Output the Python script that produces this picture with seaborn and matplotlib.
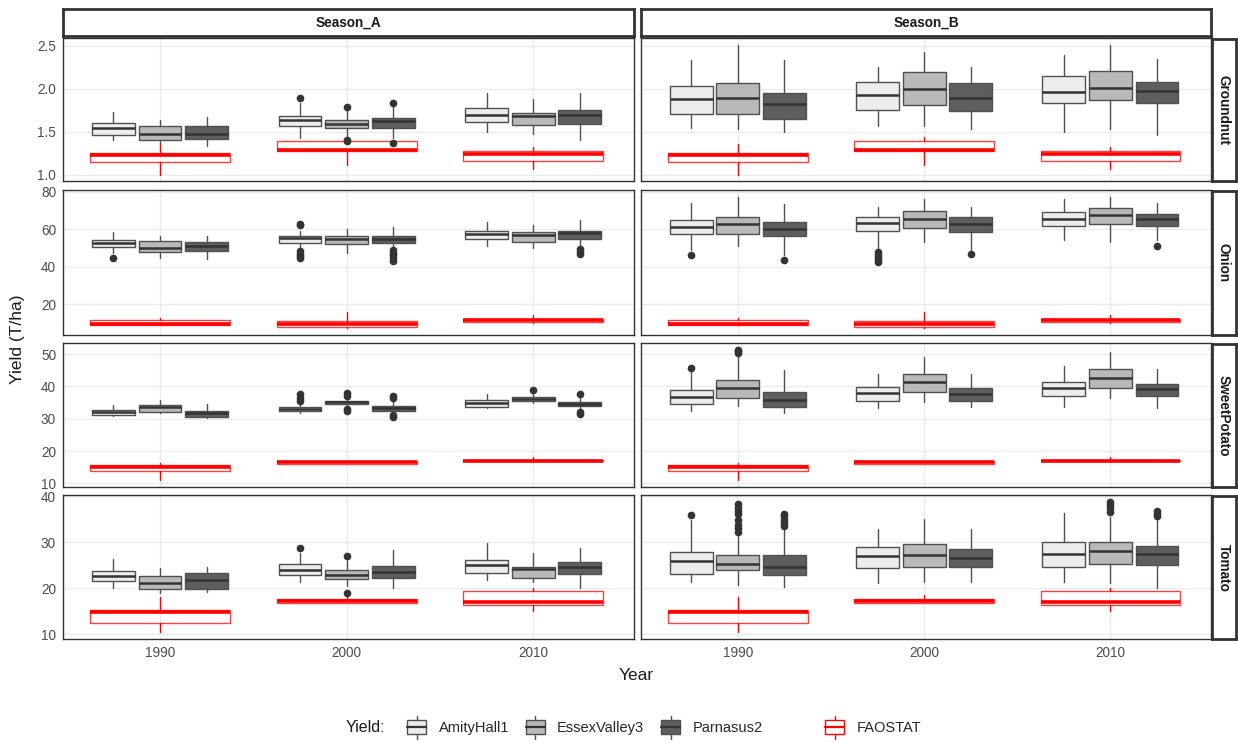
import matplotlib
matplotlib.use("Agg")
import matplotlib.pyplot as plt
import seaborn as sns
import pandas as pd
from matplotlib.legend_handler import HandlerBase
from matplotlib.patches import Rectangle, Patch
from matplotlib.lines import Line2D

# ---------------- data ----------------
years = [1990, 2000, 2010]
crops = ["Groundnut", "Onion", "SweetPotato", "Tomato"]
seasons = ["Season_A", "Season_B"]
cultivars = ["AmityHall1", "EssexValley3", "Parnasus2"]

# five-number summaries per year (1990, 2000, 2010): (low whisker, Q1, median, Q3, high whisker)
groundnut_A = {
    "AmityHall1":   [(1.40, 1.465, 1.547, 1.597, 1.733), (1.426, 1.566, 1.636, 1.686, 1.83), (1.50, 1.608, 1.694, 1.771, 1.95)],
    "EssexValley3": [(1.37, 1.407, 1.473, 1.566, 1.632), (1.446, 1.547, 1.593, 1.64, 1.756), (1.473, 1.577, 1.678, 1.713, 1.88)],
    "Parnasus2":    [(1.33, 1.419, 1.473, 1.57, 1.67), (1.426, 1.547, 1.624, 1.655, 1.795), (1.40, 1.593, 1.694, 1.748, 1.95)],
}
groundnut_B = {
    "AmityHall1":   [(1.543, 1.71, 1.88, 2.031, 2.33), (1.562, 1.752, 1.922, 2.078, 2.256), (1.50, 1.83, 1.965, 2.151, 2.388)],
    "EssexValley3": [(1.531, 1.71, 1.895, 2.066, 2.515), (1.562, 1.81, 1.996, 2.194, 2.43), (1.531, 1.872, 2.012, 2.205, 2.508)],
    "Parnasus2":    [(1.50, 1.651, 1.826, 1.946, 2.33), (1.531, 1.74, 1.895, 2.062, 2.256), (1.457, 1.83, 1.969, 2.078, 2.345)],
}
onion_A = {
    "AmityHall1":   [(47.2, 50.6, 52.6, 54.2, 58.3), (49.9, 52.6, 55.2, 56.3, 58.8), (51.1, 54.7, 57.4, 59.0, 63.7)],
    "EssexValley3": [(44.5, 47.9, 50.2, 53.5, 56.1), (47.2, 52.2, 54.7, 56.3, 60.3), (49.9, 53.3, 56.7, 58.5, 62.4)],
    "Parnasus2":    [(44.0, 48.1, 50.9, 53.3, 56.1), (49.9, 52.6, 54.7, 56.3, 61.2), (51.1, 54.5, 57.8, 59.0, 64.6)],
}
onion_B = {
    "AmityHall1":   [(49.0, 57.6, 61.3, 64.9, 73.9), (49.0, 58.8, 63.3, 66.4, 71.9), (54.0, 61.5, 65.3, 69.1, 75.9)],
    "EssexValley3": [(50.8, 57.4, 62.6, 66.4, 77.3), (53.1, 60.8, 65.5, 69.8, 75.9), (53.1, 62.8, 67.3, 71.0, 77.3)],
    "Parnasus2":    [(46.3, 56.1, 59.9, 63.7, 73.2), (49.0, 58.7, 62.6, 66.2, 71.9), (54.0, 61.5, 65.3, 67.8, 73.9)],
}
sweetpotato_A = {
    "AmityHall1":   [(30.7, 31.1, 32.0, 32.6, 34.1), (31.7, 32.3, 33.1, 33.6, 35.0), (33.2, 33.6, 34.8, 35.7, 37.5)],
    "EssexValley3": [(31.7, 32.1, 33.5, 34.1, 35.7), (33.4, 34.4, 35.1, 35.6, 36.5), (34.8, 35.6, 36.2, 36.8, 38.1)],
    "Parnasus2":    [(30.1, 30.5, 31.8, 32.5, 34.6), (31.7, 32.4, 33.3, 34.0, 35.8), (33.2, 33.8, 34.6, 35.3, 36.5)],
}
sweetpotato_B = {
    "AmityHall1":   [(32.4, 34.5, 36.7, 38.8, 44.8), (33.2, 35.6, 37.9, 39.9, 43.9), (33.5, 37.1, 39.4, 41.5, 46.2)],
    "EssexValley3": [(33.9, 36.4, 39.4, 41.9, 49.5), (35.1, 38.3, 41.3, 43.8, 49.0), (36.3, 39.5, 42.7, 45.3, 50.6)],
    "Parnasus2":    [(31.7, 33.6, 35.8, 38.3, 45.1), (33.6, 35.5, 37.5, 39.4, 43.9), (33.2, 37.0, 39.3, 40.7, 45.4)],
}
tomato_A = {
    "AmityHall1":   [(20.1, 21.5, 22.6, 23.7, 26.3), (21.4, 22.8, 24.0, 25.2, 27.7), (21.7, 23.4, 25.0, 26.2, 29.9)],
    "EssexValley3": [(19.0, 19.8, 21.1, 22.6, 24.4), (20.4, 22.0, 22.8, 24.0, 26.3), (21.3, 22.3, 24.1, 24.7, 27.7)],
    "Parnasus2":    [(19.1, 19.8, 21.7, 23.2, 24.7), (20.1, 22.3, 23.6, 24.8, 28.2), (20.1, 23.1, 24.7, 25.6, 28.7)],
}
tomato_B = {
    "AmityHall1":   [(21.4, 23.1, 25.8, 27.9, 34.7), (21.1, 24.3, 26.9, 29.0, 32.8), (21.4, 24.7, 27.4, 30.1, 36.4)],
    "EssexValley3": [(20.6, 23.9, 25.3, 27.2, 31.4), (21.4, 24.7, 27.2, 29.5, 35.1), (21.2, 25.3, 28.0, 30.1, 35.4)],
    "Parnasus2":    [(20.3, 22.8, 24.7, 27.3, 32.8), (21.4, 24.5, 26.6, 28.6, 32.8), (20.1, 25.0, 27.4, 29.2, 35.0)],
}

# outliers per year (1990, 2000, 2010)
groundnut_A_out = {"AmityHall1": [[], [1.888], []], "EssexValley3": [[], [1.783, 1.405, 1.385], []],
                   "Parnasus2": [[], [1.83, 1.365], []]}
groundnut_B_out = {"AmityHall1": [[], [], []], "EssexValley3": [[], [], []], "Parnasus2": [[], [], []]}
onion_A_out = {"AmityHall1": [[44.5], [62.1, 62.8, 48.5, 47.0, 45.5, 44.5], []],
               "EssexValley3": [[], [], []],
               "Parnasus2": [[], [49.0, 47.5, 46.0, 44.5, 43.0], [49.5, 48.0, 47.0]]}
onion_B_out = {"AmityHall1": [[46.3], [48.0, 46.5, 45.0, 43.5, 42.5], []],
               "EssexValley3": [[], [], []],
               "Parnasus2": [[43.8], [46.8], [51.1]]}
sweetpotato_A_out = {"AmityHall1": [[], [35.5, 36.5, 37.5], []],
                     "EssexValley3": [[], [37.0, 38.0, 32.9, 32.3], [38.8]],
                     "Parnasus2": [[], [36.3, 37.0, 31.0, 30.5], [37.6, 32.2, 31.5]]}
sweetpotato_B_out = {"AmityHall1": [[45.6], [], []], "EssexValley3": [[50.2, 50.8, 51.4], [], []],
                     "Parnasus2": [[], [], []]}
tomato_A_out = {"AmityHall1": [[], [28.7], []], "EssexValley3": [[], [27.0, 19.05], []],
                "Parnasus2": [[], [], []]}
tomato_B_out = {"AmityHall1": [[35.8], [], []],
                "EssexValley3": [[32.3, 33.0, 33.8, 34.7, 36.1, 36.8, 37.5, 38.3], [], [36.5, 37.3, 38.0, 38.8]],
                "Parnasus2": [[33.5, 34.2, 34.9, 35.6, 36.1], [], [35.6, 36.2, 36.8]]}

# FAOSTAT summaries (same in both seasons)
fao_groundnut = [(1.0, 1.143, 1.233, 1.248, 1.36), (1.108, 1.271, 1.28, 1.391, 1.44), (1.066, 1.159, 1.24, 1.275, 1.322)]
fao_onion = [(9.0, 9.0, 9.6, 11.9, 12.5), (7.2, 8.1, 9.6, 11.1, 16.1), (10.0, 10.8, 11.7, 12.3, 14.5)]
fao_sweetpotato = [(10.9, 13.7, 15.1, 15.8, 16.3), (16.0, 16.1, 16.5, 16.8, 17.0), (16.6, 16.9, 17.0, 17.1, 18.2)]
fao_tomato = [(10.4, 12.4, 14.8, 15.3, 18.2), (16.8, 16.8, 17.2, 17.7, 18.5), (15.1, 16.3, 16.9, 19.3, 20.0)]

tables = {("Groundnut", "Season_A"): (groundnut_A, groundnut_A_out),
          ("Groundnut", "Season_B"): (groundnut_B, groundnut_B_out),
          ("Onion", "Season_A"): (onion_A, onion_A_out),
          ("Onion", "Season_B"): (onion_B, onion_B_out),
          ("SweetPotato", "Season_A"): (sweetpotato_A, sweetpotato_A_out),
          ("SweetPotato", "Season_B"): (sweetpotato_B, sweetpotato_B_out),
          ("Tomato", "Season_A"): (tomato_A, tomato_A_out),
          ("Tomato", "Season_B"): (tomato_B, tomato_B_out)}
fao = {"Groundnut": fao_groundnut, "Onion": fao_onion, "SweetPotato": fao_sweetpotato, "Tomato": fao_tomato}

# ---------------- style ----------------
sns.set_theme(style="whitegrid")
plt.rcParams["font.family"] = ["Liberation Sans", "DejaVu Sans"]

fills = {"AmityHall1": "#EDEDED", "EssexValley3": "#B9B9B9", "Parnasus2": "#5E5E5E"}
edge = "#505050"
dark = "#333333"
red = "#FF0000"
offsets = {"AmityHall1": -2.5, "EssexValley3": 0.0, "Parnasus2": 2.5}
box_w = 2.3
fao_w = 7.5

W, H = 1238, 743
fig = plt.figure(figsize=(W / 100, H / 100), dpi=100)
fig.patch.set_facecolor("white")

col_x = [(63, 634), (641, 1211)]
row_y = [(38, 181), (190, 335), (343, 487), (495, 639)]


def rect(x0, y0, x1, y1):
    return [x0 / W, 1 - y1 / H, (x1 - x0) / W, (y1 - y0) / H]


def stat(t, fl=()):
    lo, q1, med, q3, hi = t
    return dict(whislo=lo, q1=q1, med=med, q3=q3, whishi=hi, fliers=list(fl))


for r, crop in enumerate(crops):
    # y-limits with ggplot-like 5% expansion
    vals = []
    for s in seasons:
        d, o = tables[(crop, s)]
        for c in cultivars:
            for i in range(3):
                vals += list(d[c][i]) + list(o[c][i])
    for t in fao[crop]:
        vals += list(t)
    vmin, vmax = min(vals), max(vals)
    pad = 0.05 * (vmax - vmin)

    for ci, season in enumerate(seasons):
        x0, x1 = col_x[ci]
        y0, y1 = row_y[r]
        ax = fig.add_axes(rect(x0, y0, x1, y1))
        ax.set_facecolor("white")
        ax.grid(True, color="#EBEBEB", lw=1.0)
        ax.set_axisbelow(True)
        d, o = tables[(crop, season)]

        # FAOSTAT boxes
        ax.bxp([stat(t) for t in fao[crop]], positions=years, widths=fao_w, patch_artist=True,
               showcaps=False, manage_ticks=False,
               boxprops=dict(facecolor="none", edgecolor=red, lw=1.0, alpha=0.75),
               medianprops=dict(color=red, lw=2.6),
               whiskerprops=dict(color=red, lw=1.0),
               flierprops=dict(marker="o", mfc=red, mec=red, ms=4))

        for c in cultivars:
            pos = [y + offsets[c] for y in years]
            sts = [stat(d[c][i], o[c][i]) for i in range(3)]
            ax.bxp(sts, positions=pos, widths=box_w, patch_artist=True, showcaps=False,
                   manage_ticks=False,
                   boxprops=dict(facecolor=fills[c], edgecolor=edge, lw=1.0),
                   medianprops=dict(color=dark, lw=1.8),
                   whiskerprops=dict(color=edge, lw=1.0),
                   flierprops=dict(marker="o", mfc=dark, mec=dark, ms=4.5))

        ax.set_xlim(1984.8, 2015.4)
        ax.set_ylim(vmin - pad, vmax + pad)
        ax.set_xticks(years)
        for sp in ax.spines.values():
            sp.set_color(dark)
            sp.set_linewidth(1.0)
        ax.tick_params(axis="both", length=3, width=0.8, color="#333333", labelsize=9.8,
                       labelcolor="#4D4D4D", pad=2)
        if ci == 1:
            ax.tick_params(axis="y", labelleft=False, length=0)
        if r < len(crops) - 1:
            ax.tick_params(axis="x", labelbottom=False, length=0)
        else:
            ax.set_xticklabels([str(y) for y in years])

        # top strips
        if r == 0:
            sax = fig.add_axes(rect(x0, 9, x1, 36))
            sax.set_xticks([]); sax.set_yticks([])
            sax.set_facecolor("white")
            for sp in sax.spines.values():
                sp.set_color(dark); sp.set_linewidth(2.0)
            sax.text(0.5, 0.5, season, ha="center", va="center", fontsize=9.8,
                     fontweight="bold", color="#1A1A1A", transform=sax.transAxes)
        # right strips
        if ci == 1:
            sax = fig.add_axes(rect(1212, y0 + 1, 1236, y1))
            sax.set_xticks([]); sax.set_yticks([])
            sax.set_facecolor("white")
            for sp in sax.spines.values():
                sp.set_color(dark); sp.set_linewidth(2.0)
            sax.text(0.5, 0.5, crop, ha="center", va="center", rotation=-90, fontsize=9.8,
                     fontweight="bold", color="#1A1A1A", transform=sax.transAxes)

fig.text(636 / W, 1 - 676 / H, "Year", ha="center", va="center", fontsize=12.5, color="#1A1A1A")
fig.text(18 / W, 1 - 339 / H, "Yield (T/ha)", ha="center", va="center", rotation=90,
         fontsize=12.5, color="#1A1A1A")


# ---------------- legend ----------------
class BoxKey(HandlerBase):
    def create_artists(self, legend, orig, xd, yd, w, h, fs, trans):
        fc = orig.get_facecolor()
        ec = orig.get_edgecolor()
        mc = getattr(orig, "_medcolor", dark)
        bx = -xd + w * 0.1
        bw = w * 0.8
        by = -yd - h * 0.05
        bh = h * 1.1
        artists = [
            Line2D([bx + bw / 2] * 2, [by + bh, by + bh + h * 0.35], color=ec, lw=1, transform=trans),
            Line2D([bx + bw / 2] * 2, [by - h * 0.35, by], color=ec, lw=1, transform=trans),
            Rectangle((bx, by), bw, bh, facecolor=fc, edgecolor=ec, lw=1, transform=trans),
            Line2D([bx, bx + bw], [by + bh / 2] * 2, color=mc, lw=1.6, transform=trans),
        ]
        return artists


handles = []
for c in cultivars:
    p = Patch(facecolor=fills[c], edgecolor=edge)
    p._medcolor = dark
    handles.append(p)
pf = Patch(facecolor="white", edgecolor=red)
pf._medcolor = red

ly = 1 - 728 / H
fig.text(346 / W, ly, "Yield:", ha="left", va="center", fontsize=11.5, color="#1A1A1A")
leg1 = fig.legend(handles, cultivars, loc="center left", bbox_to_anchor=(405 / W, ly), ncol=3,
                  frameon=False, handler_map={Patch: BoxKey()}, handlelength=1.6, handleheight=1.0,
                  handletextpad=0.7, columnspacing=1.0, fontsize=10.5, borderaxespad=0, borderpad=0)
leg2 = fig.legend([pf], ["FAOSTAT"], loc="center left", bbox_to_anchor=(823 / W, ly), ncol=1,
                  frameon=False, handler_map={Patch: BoxKey()}, handlelength=1.6, handleheight=1.0,
                  handletextpad=0.7, fontsize=10.5, borderaxespad=0, borderpad=0)

fig.savefig("out.png", dpi=100, facecolor="white")
